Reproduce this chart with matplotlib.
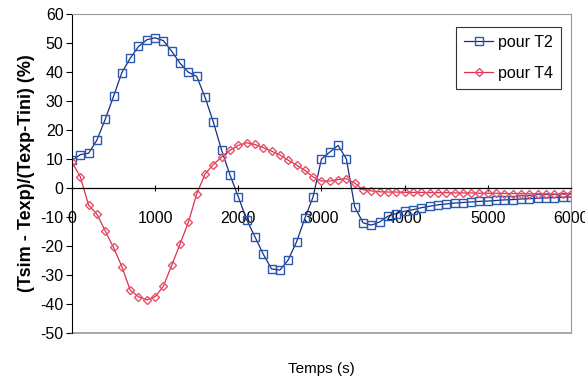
import numpy as np
import matplotlib
matplotlib.use('Agg')
import matplotlib.pyplot as plt

plt.rcParams['font.family'] = ['Liberation Sans', 'DejaVu Sans']
plt.rcParams['axes.unicode_minus'] = False

# temps (s), un point toutes les 100 s
temps = np.arange(0, 6001, 100)

pour_t2 = [9.5, 11.5, 12.0, 16.5, 23.7, 31.6, 39.8, 44.7, 48.8, 51.1,
           51.8, 50.8, 47.1, 43.0, 39.9, 38.5, 31.3, 22.7, 13.0, 4.5,
           -3.0, -10.9, -16.8, -22.8, -27.9, -28.3, -24.8, -18.6, -10.5, -3.0,
           10.0, 12.4, 14.7, 10.0, -6.5, -12.0, -12.8, -11.7, -9.7, -8.8,
           -8.0, -7.5, -6.8, -6.3, -5.8, -5.5, -5.2, -5.0, -4.8, -4.6,
           -4.5, -4.3, -4.1, -4.0, -3.8, -3.7, -3.5, -3.4, -3.3, -3.2, -3.1]

pour_t4 = [8.9, 3.9, -5.9, -9.0, -14.8, -20.5, -27.1, -35.2, -37.5, -38.6,
           -37.5, -33.8, -26.6, -19.3, -11.8, -2.0, 4.8, 8.1, 10.7, 13.0,
           14.7, 15.6, 15.0, 13.9, 12.7, 11.4, 9.6, 7.9, 6.1, 3.8,
           2.4, 2.4, 2.9, 3.2, 1.7, -0.6, -1.0, -1.3, -1.4, -1.4,
           -1.5, -1.5, -1.5, -1.6, -1.6, -1.6, -1.7, -1.7, -1.7, -1.8,
           -1.8, -1.8, -1.9, -1.9, -1.9, -2.0, -2.0, -2.0, -2.1, -2.1, -2.2]

fig = plt.figure(figsize=(5.85, 3.78), dpi=100)
ax = fig.add_axes([0.123, 0.119, 0.853, 0.844])

ax.plot(temps, pour_t2, color='#1a2c80', lw=0.9, marker='s', ms=6,
        mfc='none', mec='#2a5ab0', mew=1.0, label='pour T2')
ax.plot(temps, pour_t4, color='#e0304a', lw=0.9, marker='D', ms=4.5,
        mfc='none', mec='#e8506a', mew=1.0, label='pour T4')

ax.set_xlim(0, 6000)
ax.set_ylim(-50, 60)
ax.set_xticks(range(0, 6001, 1000))
ax.set_yticks(range(-50, 61, 10))

# axe des x au niveau zero, cadre gris autour
ax.spines['bottom'].set_position(('data', 0))
ax.spines['bottom'].set_color('black')
ax.spines['bottom'].set_linewidth(0.9)
ax.spines['left'].set_color('black')
for s in ['top', 'right']:
    ax.spines[s].set_color('#999999')
    ax.spines[s].set_linewidth(0.8)
ax.axhline(-50, color='#999999', lw=1.2, clip_on=False)

ax.tick_params(axis='y', direction='out', length=4, labelsize=11.5, pad=2)
ax.tick_params(axis='x', direction='inout', length=5, labelsize=11.5, pad=14)

ax.set_ylabel('(Tsim - Texp)/(Texp-Tini) (%)', fontsize=13, fontweight='bold', labelpad=4)
ax.set_xlabel('Temps (s)', fontsize=11)
ax.xaxis.set_label_coords(0.5, -0.09)

leg = ax.legend(loc='upper right', bbox_to_anchor=(0.98, 0.96), borderaxespad=0,
                fontsize=11.5, frameon=True, fancybox=False, handlelength=1.8,
                borderpad=0.5, labelspacing=1.0, handletextpad=0.3)
leg.get_frame().set_edgecolor('black')
leg.get_frame().set_linewidth(0.8)

fig.savefig('out.png', dpi=100)
